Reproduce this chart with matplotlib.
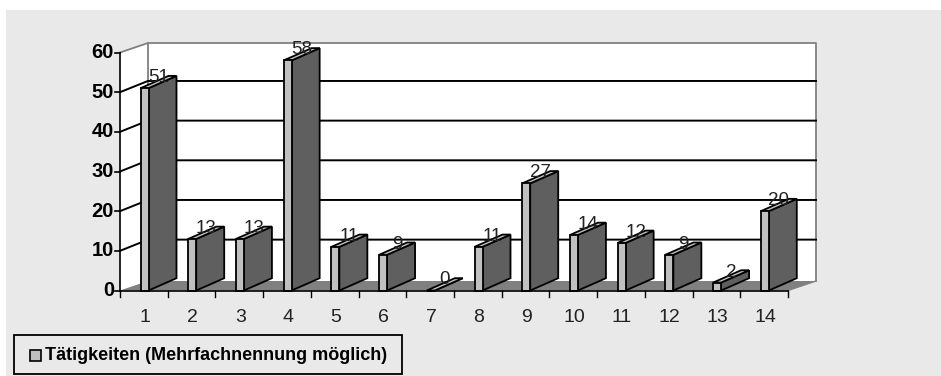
import matplotlib
matplotlib.use("Agg")
import matplotlib.pyplot as plt
from matplotlib.patches import Polygon, Rectangle

categories = [str(i) for i in range(1, 15)]
values = [51, 13, 13, 58, 11, 9, 0, 11, 27, 14, 12, 9, 2, 20]
y_ticks = [0, 10, 20, 30, 40, 50, 60]
legend_label = "Tätigkeiten (Mehrfachnennung möglich)"

W, H = 941, 376
plt.rcParams["font.family"] = ["Liberation Sans", "DejaVu Sans"]

fig = plt.figure(figsize=(W / 100, H / 100), dpi=100, facecolor="white")
fig.add_artist(Rectangle((6 / W, 0), 1, 1 - 10 / H, transform=fig.transFigure,
                         fc="#e9e9e9", ec="none", zorder=-1))

# front plane of the 3d box
left, right, top, bottom = 120, 788, 52.5, 290.5
ax = fig.add_axes([left / W, 1 - bottom / H, (right - left) / W, (bottom - top) / H])
ax.set_xlim(0, 14)
ax.set_ylim(0, 60)
ax.axis("off")

# depth of the box and of the bars in data units
px_x = 14 / (right - left)
px_y = 60 / (bottom - top)
dx = 28 * px_x
dy = 9.5 * px_y
grid_dy = 11.2 * px_y
bar_dy = 12.3 * px_y
bar_off = 20.5 * px_x
bar_w = 8 * px_x


def poly(pts, fc, ec="black", lw=1.3, z=2):
    ax.add_patch(Polygon(pts, closed=True, fc=fc, ec=ec, lw=lw, zorder=z,
                         clip_on=False, joinstyle="miter"))


# walls and floor
poly([(0, 0), (dx, dy), (dx, 60 + dy), (0, 60)], "white", ec="none", z=1)
poly([(dx, dy), (14 + dx, dy), (14 + dx, 60 + dy), (dx, 60 + dy)], "white", ec="none", z=1)
poly([(0, 0), (14, 0), (14 + dx, dy), (dx, dy)], "#808080", ec="none", z=1)
ax.plot([dx, dx, 14 + dx, 14 + dx], [dy, 60 + dy, 60 + dy, dy], color="#808080",
        lw=1.3, zorder=1.5, clip_on=False)
ax.plot([0, dx], [60, 60 + dy], color="#808080", lw=1.3, zorder=1.5, clip_on=False)
ax.plot([14, 14 + dx], [0, dy], color="#808080", lw=1.0, zorder=1.5, clip_on=False)

# gridlines run along the side wall and the back wall
for t in y_ticks[1:-1]:
    ax.plot([0, dx, 14 + dx], [t, t + grid_dy, t + grid_dy], color="black", lw=1.4,
            zorder=1.6, clip_on=False)

# axis lines and ticks
ax.plot([0, 0], [0, 60], color="black", lw=1.2, zorder=5, clip_on=False)
ax.plot([0, 14], [0, 0], color="black", lw=1.2, zorder=5, clip_on=False)
for t in y_ticks:
    ax.plot([-5 * px_x, 0], [t, t], color="black", lw=1.2, zorder=5, clip_on=False)
    ax.text(-6 * px_x, t, str(t), ha="right", va="center", fontsize=14.5,
            fontweight="bold", zorder=6)
for i in range(15):
    ax.plot([i, i], [0, -6 * px_y], color="black", lw=1.0, zorder=5, clip_on=False)

# bars
for i, v in enumerate(values):
    x0 = i + bar_off
    x1 = x0 + bar_w
    poly([(x1, 0), (x1 + dx, bar_dy), (x1 + dx, v + bar_dy), (x1, v)], "#5f5f5f", z=3)
    poly([(x0, v), (x1, v), (x1 + dx, v + bar_dy), (x0 + dx, v + bar_dy)], "#c0c0c0", z=3)
    poly([(x0, 0), (x1, 0), (x1, v), (x0, v)], "#c0c0c0", z=3)
    ax.text(x0 + 18 * px_x, v + 6 * px_y, str(v), ha="center", va="baseline",
            fontsize=13.5, color="#222222", zorder=7)

for i, c in enumerate(categories):
    ax.text(i + 0.52, -32 * px_y, c, ha="center", va="baseline", fontsize=14,
            color="#222222", zorder=6)

# legend box
fig.add_artist(Rectangle((14 / W, 1 - 374 / H), 388 / W, 39 / H, transform=fig.transFigure,
                         fc="#e9e9e9", ec="black", lw=1.3))
fig.add_artist(Rectangle((30 / W, 1 - 361 / H), 11 / W, 11 / H, transform=fig.transFigure,
                         fc="#c0c0c0", ec="black", lw=1.2))
fig.text(45 / W, 1 - 355.5 / H, legend_label, ha="left", va="center", fontsize=13,
         fontweight="bold")

fig.savefig("out.png", dpi=100, facecolor=fig.get_facecolor())
